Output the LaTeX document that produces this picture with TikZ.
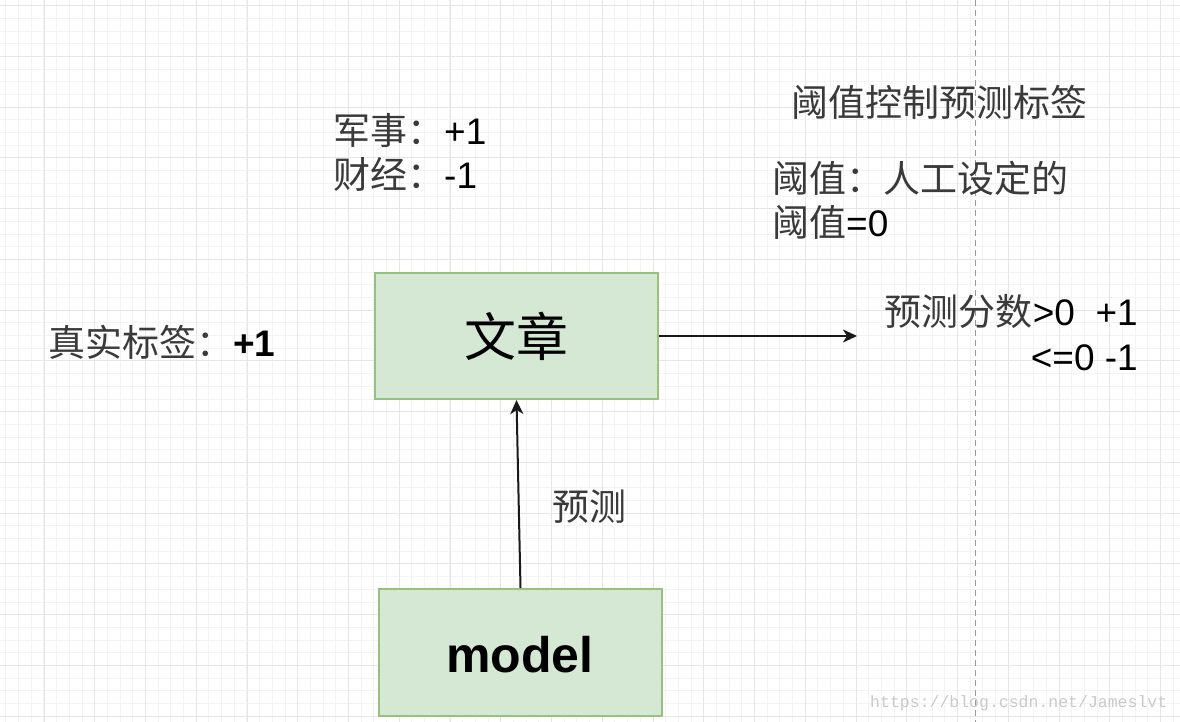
\documentclass[tikz,border=0pt]{standalone}
\usepackage{fontspec}
\setmainfont{Liberation Sans}
\newfontfamily\cjk{Noto Sans CJK SC}
\newfontfamily\wmfont{Liberation Mono}
\usetikzlibrary{arrows.meta}
\definecolor{boxfill}{HTML}{D5E8D4}
\definecolor{boxdraw}{HTML}{97C17E}
\definecolor{gmajor}{HTML}{E6E6E6}
\definecolor{gminor}{HTML}{F3F3F3}
\definecolor{cjkgray}{HTML}{3A3A3A}
\definecolor{wmgray}{HTML}{CACACA}
\newcommand\zh[1]{{\cjk\color{cjkgray}#1}}
\tikzset{
  lbl/.style={inner sep=0pt, font=\fontsize{37}{44}\selectfont, text=black},
  greenbox/.style={draw=boxdraw, fill=boxfill, line width=2pt, inner sep=0pt,
                   minimum width=283pt},
  arr/.style={draw=black!90, line width=2pt,
              -{Stealth[length=14pt, width=13pt, inset=4pt]}},
  dashline/.style={draw=black!40, line width=1pt, dash pattern=on 6pt off 4pt},
  gminorline/.style={draw=gminor, line width=1pt},
  gmajorline/.style={draw=gmajor, line width=1pt}
}
\begin{document}
\begin{tikzpicture}[x=1pt, y=-1pt]
\useasboundingbox (0,0) rectangle (1180,722);
\fill[white] (0,0) rectangle (1180,722);
% grid
\foreach \i in {0,...,92} \draw[gminorline] ({5.93+12.6875*\i},0) -- ++(0,722);
\foreach \i in {0,...,56} \draw[gminorline] (0,{5.7+12.6875*\i}) -- ++(1180,0);
\foreach \i in {0,...,22} \draw[gmajorline] ({44+50.75*\i},0) -- ++(0,722);
\foreach \i in {0,...,14} \draw[gmajorline] (0,{5.7+50.75*\i}) -- ++(1180,0);
% dashed vertical
\draw[dashline] (975,0) -- (975,722);

% boxes
\node[greenbox, minimum height=126pt] (wz) at (516.5,336)
  {\cjk\fontsize{52}{60}\selectfont 文章};
\node[greenbox, minimum height=127pt] (model) at (520.5,652.5) {};
\node[inner sep=0pt, anchor=base, font=\fontsize{50}{60}\selectfont\bfseries] (modeltxt) at (520,672) {model};

% connectors
\coordinate (tip) at (857,336);
\draw[arr] (wz.east) -- (tip);
\draw[arr] (model.north) -- (wz.south);

% labels
\node[lbl, anchor=base west] (js) at (333,145) {\zh{军事：}+1};
\node[lbl, anchor=base west] (cj) at (333,189) {\zh{财经：}-1};
\node[lbl, anchor=base west] (zs) at (48,356) {\zh{真实标签：}\textbf{+1}};
\node[lbl, anchor=base west] (yk) at (791,117) {\zh{阈值控制预测标签}};
\node[lbl, anchor=base west] (yz1) at (772,193) {\zh{阈值：人工设定的}};
\node[lbl, anchor=base west] (yz2) at (772,236) {\zh{阈值}=0};
\node[lbl, anchor=base east] (p1) at (1138,325) {\zh{预测分数}>0\ \ +1};
\node[lbl, anchor=base east] (p2) at (1138,370) {<=0 -1};
\node[lbl, anchor=base west] (yc) at (552,520) {\zh{预测}};

% watermark
\node[inner sep=0pt, anchor=base west, text=wmgray,
      font=\wmfont\fontsize{16.5}{20}\selectfont] (wm) at (870,707)
      {https://blog.csdn.net/Jameslvt};
\end{tikzpicture}
\end{document}
